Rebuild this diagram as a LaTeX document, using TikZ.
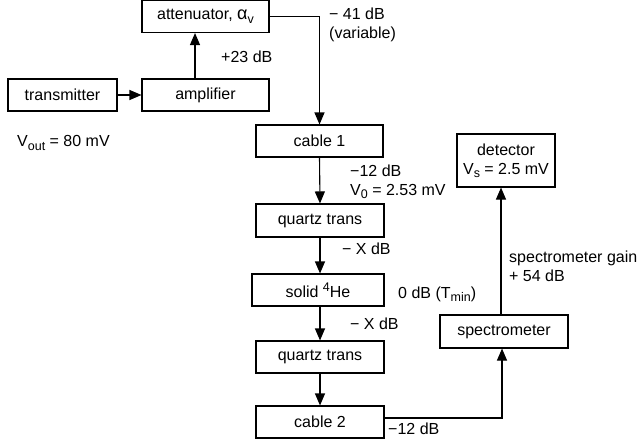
\documentclass[tikz,border=0pt]{standalone}
\usepackage{fontspec}
\setmainfont{Liberation Sans}
\usetikzlibrary{arrows.meta}
\newcommand{\lowtxt}[1]{\raisebox{-0.4ex}{\fontsize{12.5}{12.5}\selectfont #1}}
\newcommand{\hightxt}[1]{\raisebox{0.7ex}{\fontsize{12.5}{12.5}\selectfont #1}}
\begin{document}
\begin{tikzpicture}[x=1pt,y=-1pt,
  every node/.style={font=\fontsize{16}{19}\selectfont},
  blk/.style={draw,line width=1.1pt,minimum height=32pt,inner sep=0pt},
  lbl/.style={inner sep=0pt,anchor=west,align=left},
  arr/.style={line width=1.1pt,-{Triangle[length=12pt,width=10pt]}}]
\useasboundingbox (0,0) rectangle (639,444);
\node[blk,minimum width=127pt] (att) at (205.5,16.5) {attenuator, {\fontsize{18}{19}\selectfont α}\lowtxt{v}};
\node[blk,minimum width=109pt] (trans) at (62.5,95) {transmitter};
\node[blk,minimum width=127pt] (amp) at (205.5,95) {amplifier};
\node[blk,minimum width=127pt] (cab1) at (319.5,141) {cable 1};
\node[blk,minimum width=128pt,minimum height=33pt] (qt1) at (320,220.5) {quartz trans};
\node[blk,minimum width=132pt] (he) at (318,290) {solid \hightxt{4}He};
\node[blk,minimum width=128pt] (qt2) at (320,357) {quartz trans};
\node[blk,minimum width=128pt] (cab2) at (320,422) {cable 2};
\node[blk,minimum width=128pt,minimum height=33pt] (spec) at (504,331.5) {spectrometer};
\node[blk,minimum width=98pt,minimum height=53pt,align=center] (det) at (506,160.5) {detector\\V\lowtxt{s} = 2.5 mV};

\draw[arr] (trans.east) -- (amp.west);
\draw[arr] ([xshift=-10.5pt]amp.north) -- ([xshift=-10.5pt]att.south);
\draw[arr] (att.east) -| (cab1.north);
\draw[arr] (cab1.south) -- (qt1.north);
\draw[arr] (qt1.south) -- (qt1.south |- he.north);
\draw[arr] (qt1.south |- he.south) -- (qt2.north);
\draw[arr] (qt2.south) -- (cab2.north);
\draw[arr] ([yshift=4pt]cab2.east) -| ([xshift=-2pt]spec.south);
\draw[arr] ([xshift=-3pt]spec.north) -- ([xshift=-3pt]spec.north |- det.south);

\node[lbl] (l1) at (221,57) {+23 dB};
\node[lbl] (l2) at (329,25) {− 41 dB\\(variable)};
\node[lbl] (l3) at (17,143) {V\lowtxt{out} = 80 mV};
\node[lbl] (l4) at (350,182) {−12 dB\\V\lowtxt{0} = 2.53 mV};
\node[lbl] (l5) at (342,249) {− X dB};
\node[lbl] (l6) at (398,294) {0 dB (T\lowtxt{min})};
\node[lbl] (l7) at (509,266) {spectrometer gain\\+ 54 dB};
\node[lbl] (l8) at (350,324) {− X dB};
\node[lbl] (l9) at (388,429) {−12 dB};
\end{tikzpicture}
\end{document}
